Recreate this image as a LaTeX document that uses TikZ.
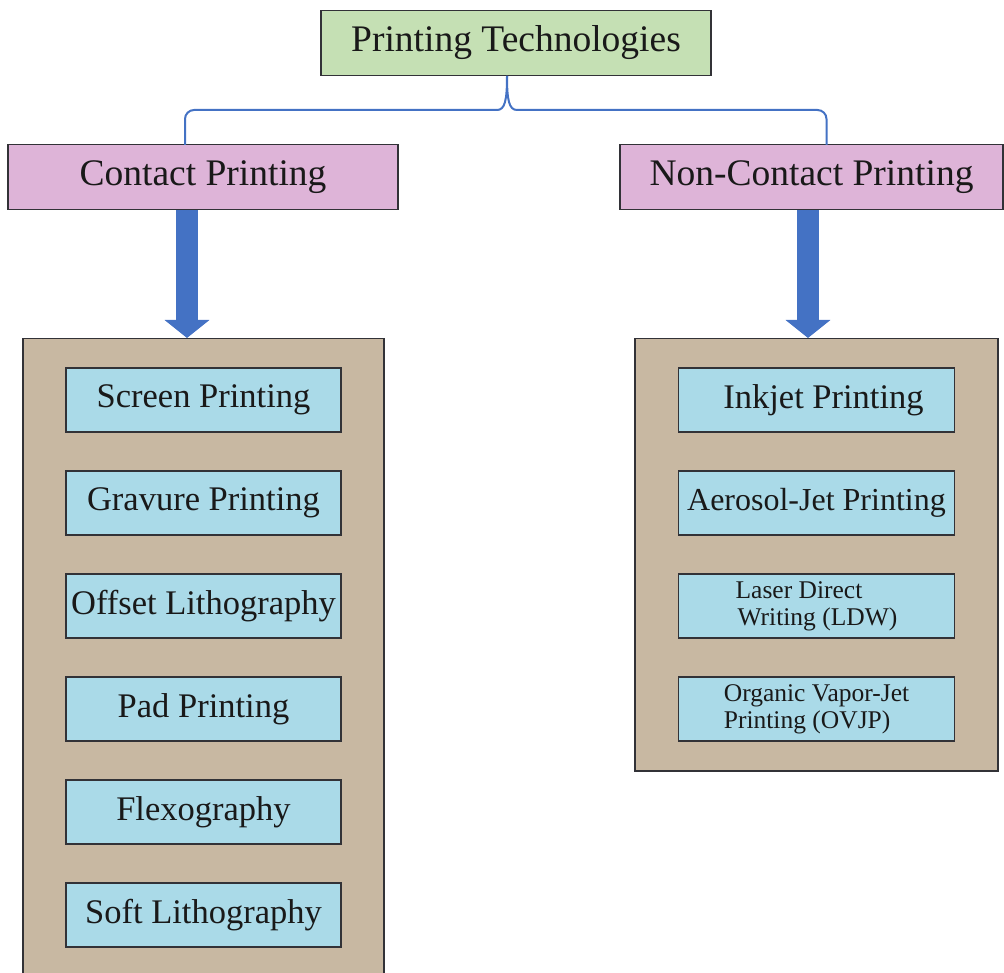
\documentclass[tikz,border=0pt]{standalone}
\usepackage{fontspec}
\setmainfont{Liberation Serif}
\usetikzlibrary{arrows.meta}
\definecolor{topgreen}{RGB}{197,224,180}
\definecolor{catpink}{RGB}{222,180,216}
\definecolor{tanbox}{RGB}{200,184,162}
\definecolor{itemblue}{RGB}{170,218,232}
\definecolor{arrowblue}{RGB}{68,114,196}
\definecolor{edgegray}{RGB}{50,50,55}
\begin{document}
\begin{tikzpicture}[x=1pt,y=-1pt,
  boxbase/.style={draw=edgegray,line width=1.3pt,inner sep=0pt,text=black!90},
  topbox/.style={boxbase,fill=topgreen,minimum width=390pt,minimum height=65pt,font=\fontsize{37.5}{42}\selectfont},
  catbox/.style={boxbase,fill=catpink,minimum height=65pt,font=\fontsize{37.5}{42}\selectfont},
  groupbox/.style={draw=edgegray,line width=1.5pt,fill=tanbox,inner sep=0pt},
  itembox/.style={boxbase,fill=itemblue,minimum width=275pt,minimum height=64pt,font=\fontsize{34.5}{38}\selectfont},
  smallitem/.style={itembox,align=left,font=\fontsize{25.5}{30}\selectfont},
  bigarrow/.style={arrowblue,line width=22pt,-{Triangle[width=44pt,length=18pt]}},
  bracket/.style={arrowblue,line width=2pt,rounded corners=9pt}
]
\useasboundingbox (0,0) rectangle (1004,973);
% group containers
\node[groupbox,minimum width=361pt,minimum height=660pt,anchor=north west] (leftgrp) at (22,338) {};
\node[groupbox,minimum width=363pt,minimum height=432pt,anchor=north west] (rightgrp) at (634,338) {};
% top and categories
\node[topbox] (top) at (516,42.8) {Printing Technologies};
\node[catbox,minimum width=390pt] (contact) at (203,177) {Contact Printing};
\node[catbox,minimum width=383pt] (noncontact) at (811.5,177) {Non-Contact Printing};
% bracket
\coordinate (tip) at (top.south -| 507,0);
\coordinate (lft) at (185,145);
\coordinate (rgt) at (826.5,145);
\draw[bracket] (lft) -- (185,110) -- (497,110);
\draw[arrowblue,line width=2pt] (497,110) .. controls (505,110) and (507,100) .. (tip);
\draw[arrowblue,line width=2pt] (tip) .. controls (507,100) and (509,110) .. (517,110);
\draw[bracket] (517,110) -- (826.5,110) -- (rgt);
% arrows
\coordinate (la) at (187,338);
\coordinate (ra) at (808,338);
\draw[bigarrow] (contact.south -| la) -- (la);
\draw[bigarrow] (noncontact.south -| ra) -- (ra);
% left items
\node[itembox] (screen) at (203.5,400) {Screen Printing};
\node[itembox] (gravure) at (203.5,503) {Gravure Printing};
\node[itembox] (offset) at (203.5,606) {Offset Lithography};
\node[itembox] (pad) at (203.5,709) {Pad Printing};
\node[itembox] (flexo) at (203.5,812) {Flexography};
\node[itembox] (soft) at (203.5,915) {Soft Lithography};
% right items
\node[itembox,minimum width=276pt] (inkjet) at (816.5,400) {\hspace*{14pt}Inkjet Printing};
\node[itembox,minimum width=276pt,font=\fontsize{32}{36}\selectfont] (aerosol) at (816.5,503) {Aerosol-Jet Printing};
\node[smallitem,minimum width=276pt] (ldw) at (816.5,606) {Laser Direct\\[-3pt]\hspace*{2pt}Writing (LDW)};
\node[smallitem,minimum width=276pt] (ovjp) at (816.5,709) {Organic Vapor-Jet\\[-3pt]Printing (OVJP)};
\end{tikzpicture}
\end{document}
